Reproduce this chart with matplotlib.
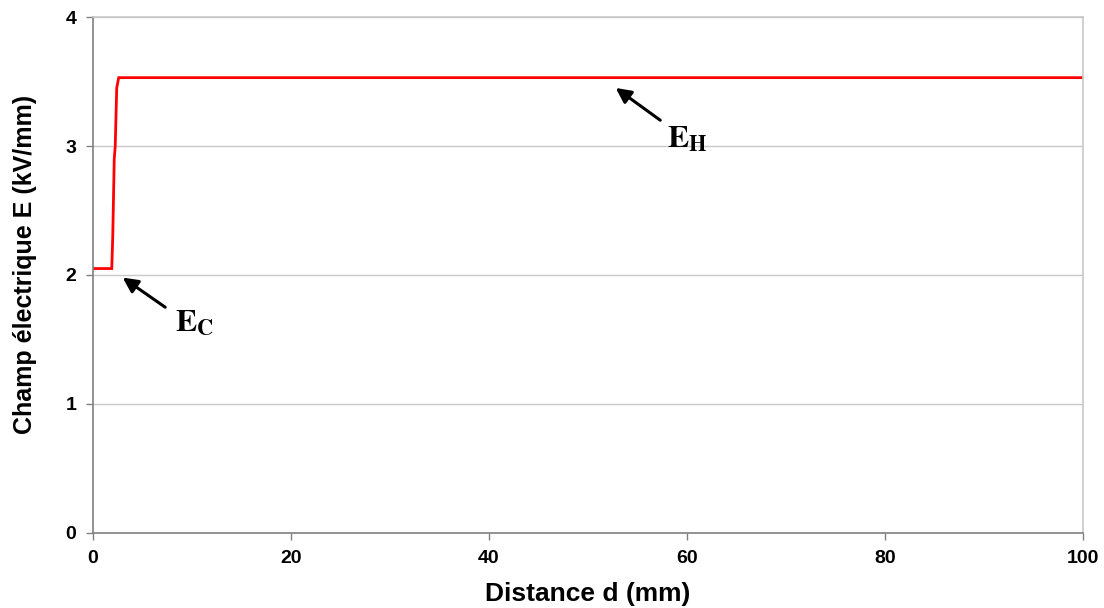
import matplotlib
matplotlib.use("Agg")
import matplotlib.pyplot as plt

# Champ électrique le long de la distance d
distance_mm = [0.0, 1.9, 2.0, 2.15, 2.25, 2.4, 2.6, 100.0]
champ_kv_mm = [2.05, 2.05, 2.3, 2.9, 3.0, 3.45, 3.53, 3.53]

x_ticks = [0, 20, 40, 60, 80, 100]
y_ticks = [0, 1, 2, 3, 4]

GRIS = "#c8c8c8"
AXE = "#808080"

fig = plt.figure(figsize=(11.04, 6.08), dpi=100)
ax = fig.add_axes([0.0842, 0.1234, 0.8968, 0.8486])

ax.plot(distance_mm, champ_kv_mm, color="#ff0000", lw=2.0, solid_joinstyle="miter")

ax.set_xlim(0, 100)
ax.set_ylim(0, 4)
ax.set_xticks(x_ticks)
ax.set_yticks(y_ticks)
ax.yaxis.grid(True, color=GRIS, lw=1.0)
ax.set_axisbelow(True)

for cote in ("top", "right"):
    ax.spines[cote].set_color(GRIS)
    ax.spines[cote].set_linewidth(1.2)
for cote in ("left", "bottom"):
    ax.spines[cote].set_color(AXE)
    ax.spines[cote].set_linewidth(1.2)

ax.tick_params(direction="out", length=5, width=1.0, color=AXE, pad=7)
for lab in ax.get_xticklabels() + ax.get_yticklabels():
    lab.set_fontfamily("Liberation Sans")
    lab.set_fontweight("bold")
    lab.set_fontsize(14)

ax.set_xlabel("Distance d (mm)", fontfamily="Liberation Sans", fontweight="bold",
              fontsize=19, labelpad=11)
ax.set_ylabel("Champ électrique E (kV/mm)", fontfamily="Liberation Sans",
              fontweight="bold", fontsize=18)
ax.yaxis.set_label_coords(-0.057, 0.52)

fleche = dict(arrowstyle="-|>,head_length=0.9,head_width=0.45", color="black",
              lw=2.2, shrinkA=0, shrinkB=0)

ax.annotate("", xy=(3.0, 1.98), xytext=(7.3, 1.75), arrowprops=fleche)
ax.text(8.3, 1.63, r"$\mathbf{E}_{\mathbf{C}}$", ha="left", va="center",
        math_fontfamily="stix", fontsize=23)

ax.annotate("", xy=(52.8, 3.45), xytext=(57.3, 3.2), arrowprops=fleche)
ax.text(58.0, 3.05, r"$\mathbf{E}_{\mathbf{H}}$", ha="left", va="center",
        math_fontfamily="stix", fontsize=23)

fig.savefig("out.png", dpi=100)
